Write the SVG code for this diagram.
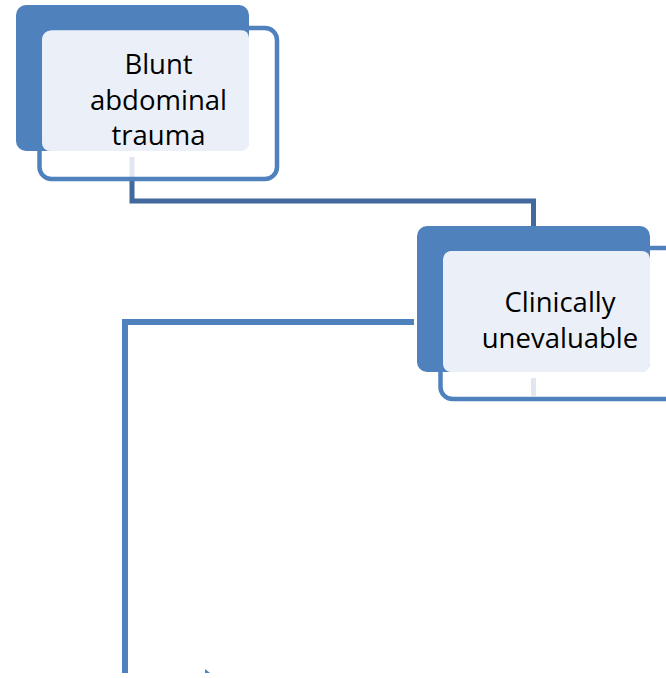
<svg xmlns="http://www.w3.org/2000/svg" width="666" height="678" viewBox="0 0 666 678">
<style>
.back{fill:#4F81BD}
.face{fill:#EBF0F8}
.frame{fill:none;stroke:#4F81BD;stroke-width:4.5}
.stub{stroke:#E1E7F1;stroke-width:5}
.lbl{font-family:"Open Sans","Liberation Sans",sans-serif;font-size:27.5px;fill:#000;text-anchor:middle}
.c1{stroke:#41699D;stroke-width:5;fill:none}
.c2{stroke:#4F81BD;stroke-width:6;fill:none}
</style>
<rect width="666" height="678" fill="#fff"/>
<g id="connectors">
<polyline class="c1" points="132,180 132,201 533.5,201 533.5,226"/>
<polyline class="c2" points="414,322 125,322 125,673"/>
<polygon points="205,669 205,673 210,673" fill="#4F81BD"/>
</g>
<g id="node-blunt">
<rect class="back" x="16" y="5" width="233" height="146" rx="10"/>
<rect class="face" x="42" y="30" width="207" height="121" rx="8"/>
<line class="stub" x1="132" y1="157" x2="132" y2="178"/>
<rect class="frame" x="39.5" y="28" width="237.5" height="151" rx="12"/>
<text class="lbl" x="158.5" y="74">Blunt</text>
<text class="lbl" x="158.5" y="110">abdominal</text>
<text class="lbl" x="158.5" y="145">trauma</text>
</g>
<g id="node-clinically">
<rect class="back" x="417" y="226" width="233" height="146" rx="10"/>
<rect class="face" x="443" y="251" width="207" height="121" rx="8"/>
<line class="stub" x1="533.5" y1="378" x2="533.5" y2="396"/>
<rect class="frame" x="440.5" y="248" width="240" height="151" rx="12"/>
<text class="lbl" x="560" y="312">Clinically</text>
<text class="lbl" x="560" y="348">unevaluable</text>
</g>
</svg>
